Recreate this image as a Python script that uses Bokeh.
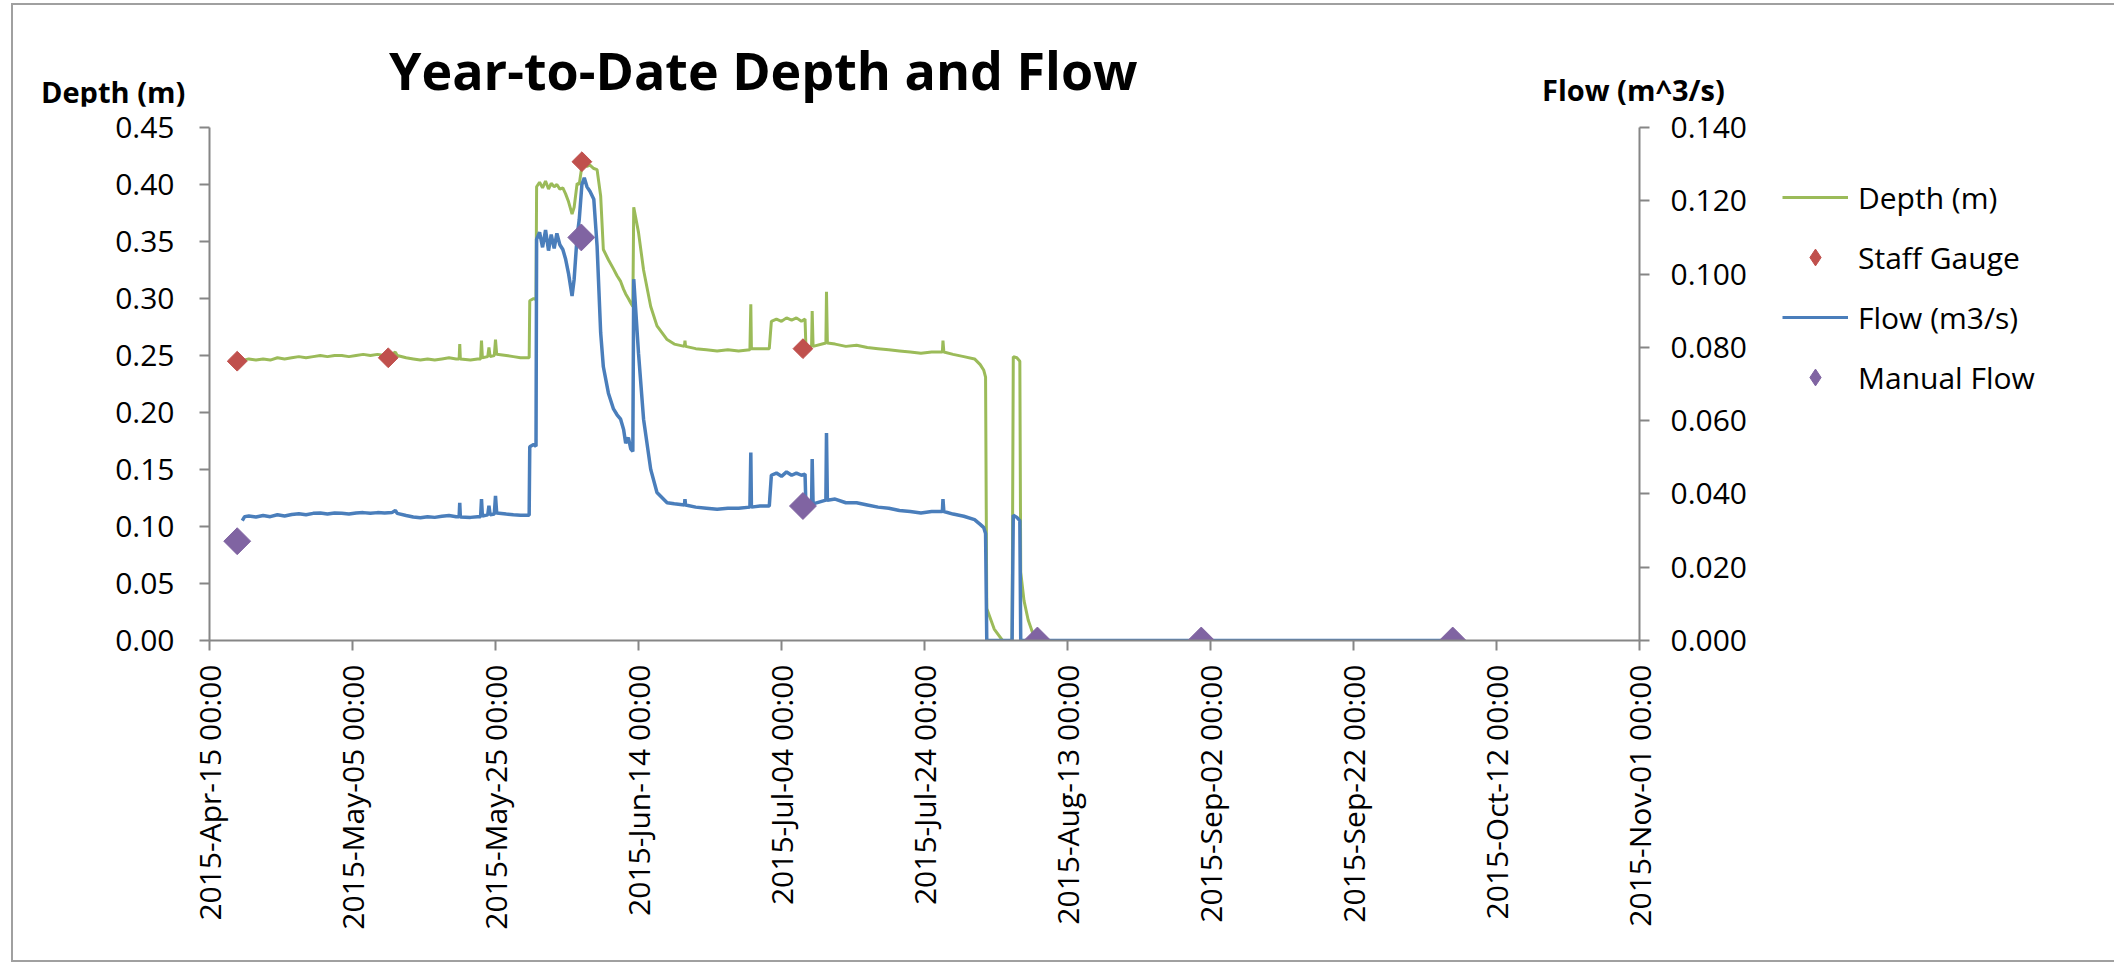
import math
import pandas as pd
from bokeh.plotting import figure
from bokeh.layouts import column, row
from bokeh.models import (Range1d, LinearAxis, FixedTicker, NumeralTickFormatter,
                          DatetimeTickFormatter, Legend, LegendItem, Div)
from bokeh.embed import file_html
from bokeh.resources import INLINE

# ---------------- data ----------------
title_text = "Year-to-Date Depth and Flow"
depth_axis_title = "Depth (m)"
flow_axis_title = "Flow (m^3/s)"
series_names = ["Depth (m)", "Staff Gauge", "Flow (m3/s)", "Manual Flow"]

x_tick_dates = ["2015-04-15", "2015-05-05", "2015-05-25", "2015-06-14", "2015-07-04",
                "2015-07-24", "2015-08-13", "2015-09-02", "2015-09-22", "2015-10-12",
                "2015-11-01"]
depth_ticks = [0.0, 0.05, 0.10, 0.15, 0.20, 0.25, 0.30, 0.35, 0.40, 0.45]
flow_ticks = [0.0, 0.02, 0.04, 0.06, 0.08, 0.10, 0.12, 0.14]

times = [
    "2015-04-19 14:00", "2015-04-19 22:00", "2015-04-20 12:00", "2015-04-21 12:00",
    "2015-04-22 12:00", "2015-04-23 12:00", "2015-04-24 12:00", "2015-04-25 12:00",
    "2015-04-26 12:00", "2015-04-27 12:00", "2015-04-28 12:00", "2015-04-29 12:00",
    "2015-04-30 12:00", "2015-05-01 12:00", "2015-05-02 12:00", "2015-05-03 12:00",
    "2015-05-04 12:00", "2015-05-05 12:00", "2015-05-06 12:00", "2015-05-07 12:00",
    "2015-05-08 12:00", "2015-05-09 12:00", "2015-05-10 12:00", "2015-05-11 00:00",
    "2015-05-11 06:00", "2015-05-12 12:00", "2015-05-13 12:00", "2015-05-14 12:00",
    "2015-05-15 12:00", "2015-05-16 12:00", "2015-05-17 12:00", "2015-05-18 12:00",
    "2015-05-19 12:00", "2015-05-19 22:00", "2015-05-20 00:00", "2015-05-20 02:00",
    "2015-05-21 12:00", "2015-05-22 12:00", "2015-05-22 22:00", "2015-05-23 01:00",
    "2015-05-23 04:00", "2015-05-23 22:00", "2015-05-24 02:00", "2015-05-24 06:00",
    "2015-05-24 20:00", "2015-05-25 00:00", "2015-05-25 04:00", "2015-05-26 12:00",
    "2015-05-27 12:00", "2015-05-28 12:00", "2015-05-29 17:00", "2015-05-29 19:00",
    "2015-05-30 08:00", "2015-05-30 16:00", "2015-05-30 18:00", "2015-05-31 04:00",
    "2015-05-31 14:00", "2015-06-01 00:00", "2015-06-01 10:00", "2015-06-01 19:00",
    "2015-06-02 05:00", "2015-06-02 14:00", "2015-06-03 00:00", "2015-06-03 10:00",
    "2015-06-03 19:00", "2015-06-04 05:00", "2015-06-04 17:00", "2015-06-05 00:00",
    "2015-06-05 10:00", "2015-06-05 17:00", "2015-06-06 02:00", "2015-06-06 10:00",
    "2015-06-06 19:00", "2015-06-07 05:00", "2015-06-07 18:00", "2015-06-08 05:00",
    "2015-06-08 17:00", "2015-06-09 02:00", "2015-06-09 19:00", "2015-06-10 12:00",
    "2015-06-11 00:00", "2015-06-11 12:00", "2015-06-11 22:00", "2015-06-12 05:00",
    "2015-06-12 14:00", "2015-06-12 22:00", "2015-06-13 05:00", "2015-06-13 08:00",
    "2015-06-14 00:00", "2015-06-14 17:00", "2015-06-15 17:00", "2015-06-16 14:00",
    "2015-06-18 00:00", "2015-06-19 00:00", "2015-06-20 10:00", "2015-06-20 12:00",
    "2015-06-20 14:00", "2015-06-22 00:00", "2015-06-23 12:00", "2015-06-25 00:00",
    "2015-06-26 12:00", "2015-06-28 00:00", "2015-06-29 14:00", "2015-06-29 17:00",
    "2015-06-29 19:00", "2015-07-01 00:00", "2015-07-02 07:00", "2015-07-02 14:00",
    "2015-07-03 07:00", "2015-07-04 00:00", "2015-07-04 17:00", "2015-07-05 10:00",
    "2015-07-06 02:00", "2015-07-06 19:00", "2015-07-07 07:00", "2015-07-07 10:00",
    "2015-07-08 05:00", "2015-07-08 07:00", "2015-07-08 10:00", "2015-07-10 05:00",
    "2015-07-10 07:00", "2015-07-10 10:00", "2015-07-11 12:00", "2015-07-13 00:00",
    "2015-07-14 12:00", "2015-07-16 00:00", "2015-07-17 12:00", "2015-07-19 00:00",
    "2015-07-20 12:00", "2015-07-22 00:00", "2015-07-23 12:00", "2015-07-25 00:00",
    "2015-07-26 12:00", "2015-07-26 14:00", "2015-07-26 17:00", "2015-07-28 00:00",
    "2015-07-29 12:00", "2015-07-31 00:00", "2015-07-31 19:00", "2015-08-01 07:00",
    "2015-08-01 13:00", "2015-08-01 17:00", "2015-08-02 18:00", "2015-08-03 22:00",
    "2015-08-05 06:00", "2015-08-05 10:00", "2015-08-05 22:00", "2015-08-06 08:00",
    "2015-08-06 11:00", "2015-08-06 22:00", "2015-08-07 12:00", "2015-08-08 12:00",
    "2015-10-05 21:00",
]
depth_m = [
    0.245, 0.246, 0.247, 0.246, 0.247, 0.246, 0.248, 0.247, 0.248, 0.249, 0.248, 0.249,
    0.250, 0.249, 0.250, 0.250, 0.249, 0.250, 0.251, 0.250, 0.251, 0.250, 0.251, 0.253,
    0.250, 0.248, 0.247, 0.246, 0.247, 0.246, 0.247, 0.248, 0.247, 0.247, 0.260, 0.247,
    0.246, 0.247, 0.247, 0.263, 0.248, 0.249, 0.257, 0.249, 0.250, 0.264, 0.251, 0.250,
    0.249, 0.248, 0.248, 0.298, 0.300, 0.299, 0.398, 0.402, 0.397, 0.403, 0.396, 0.401,
    0.398, 0.400, 0.396, 0.397, 0.392, 0.385, 0.374, 0.380, 0.401, 0.400, 0.416, 0.418,
    0.416, 0.417, 0.414, 0.413, 0.390, 0.343, 0.334, 0.326, 0.320, 0.315, 0.308, 0.304,
    0.300, 0.296, 0.293, 0.380, 0.358, 0.325, 0.293, 0.276, 0.264, 0.260, 0.258, 0.263,
    0.258, 0.256, 0.255, 0.254, 0.255, 0.254, 0.255, 0.295, 0.256, 0.256, 0.256, 0.280,
    0.282, 0.280, 0.283, 0.281, 0.283, 0.280, 0.282, 0.257, 0.258, 0.289, 0.258, 0.261,
    0.306, 0.261, 0.260, 0.258, 0.259, 0.257, 0.256, 0.255, 0.254, 0.253, 0.252, 0.253,
    0.253, 0.263, 0.253, 0.251, 0.249, 0.247, 0.242, 0.237, 0.231, 0.028, 0.010, 0.000,
    0.000, 0.249, 0.248, 0.245, 0.060, 0.035, 0.018, 0.000, 0.000,
]
flow_m3s = [
    0.0327, 0.0338, 0.0340, 0.0337, 0.0341, 0.0338, 0.0343, 0.0340, 0.0344, 0.0346,
    0.0343, 0.0347, 0.0348, 0.0345, 0.0348, 0.0347, 0.0345, 0.0348, 0.0349, 0.0347,
    0.0349, 0.0348, 0.0349, 0.0355, 0.0347, 0.0341, 0.0337, 0.0335, 0.0338, 0.0336,
    0.0339, 0.0341, 0.0338, 0.0338, 0.0376, 0.0337, 0.0336, 0.0338, 0.0338, 0.0386,
    0.0340, 0.0343, 0.0368, 0.0343, 0.0345, 0.0395, 0.0348, 0.0345, 0.0343, 0.0342,
    0.0342, 0.0529, 0.0535, 0.0530, 0.1095, 0.1114, 0.1073, 0.1120, 0.1064, 0.1108,
    0.1070, 0.1111, 0.1080, 0.1067, 0.1042, 0.1002, 0.0940, 0.0986, 0.1104, 0.1148,
    0.1244, 0.1263, 0.1238, 0.1226, 0.1204, 0.1076, 0.0840, 0.0747, 0.0675, 0.0632,
    0.0616, 0.0604, 0.0576, 0.0538, 0.0554, 0.0523, 0.0516, 0.0986, 0.0784, 0.0604,
    0.0467, 0.0404, 0.0376, 0.0373, 0.0370, 0.0386, 0.0370, 0.0364, 0.0361, 0.0358,
    0.0361, 0.0361, 0.0364, 0.0513, 0.0364, 0.0367, 0.0367, 0.0451, 0.0457, 0.0448,
    0.0460, 0.0451, 0.0457, 0.0451, 0.0454, 0.0367, 0.0370, 0.0495, 0.0373, 0.0383,
    0.0566, 0.0383, 0.0386, 0.0376, 0.0376, 0.0370, 0.0364, 0.0361, 0.0355, 0.0352,
    0.0348, 0.0352, 0.0352, 0.0386, 0.0352, 0.0345, 0.0339, 0.0330, 0.0317, 0.0308,
    0.0292, 0.0000, 0.0000, 0.0000, 0.0000, 0.0342, 0.0336, 0.0327, 0.0000, 0.0000,
    0.0000, 0.0000, 0.0000,
]

gauge_times = ["2015-04-18 21:00", "2015-05-10 00:00", "2015-06-06 02:00", "2015-07-07 00:00"]
gauge_depth = [0.245, 0.248, 0.420, 0.256]

manual_times = ["2015-04-18 21:00", "2015-06-06 00:00", "2015-07-07 00:00",
                "2015-08-08 19:00", "2015-08-31 17:00", "2015-10-05 21:00"]
manual_flow = [0.0271, 0.110, 0.0367, 0.0, 0.0, 0.0]

# ---------------- styling ----------------
GREEN, BLUE, RED, PURPLE = "#9BBB59", "#4A7EBB", "#C0504D", "#8064A2"
AXIS = "#868686"
FONT = "Open Sans"

W = 2094            # content width inside the chart border
HEAD = 91           # header strip (chart title + axis titles)
FRAME_W, FRAME_H = 1430, 513
BL, BR, BT, BB = 196, 110, 21, 320    # space round the plot area
PH = BT + FRAME_H + BB                # figure height
PW = BL + FRAME_W + BR                # main figure width
LW = W - PW                           # legend strip width

t_dt = pd.to_datetime(times)
g_dt = pd.to_datetime(gauge_times)
m_dt = pd.to_datetime(manual_times)
xt = pd.to_datetime(x_tick_dates)

p = figure(frame_width=FRAME_W, frame_height=FRAME_H,
           output_backend="svg", toolbar_location=None,
           x_axis_type="datetime",
           x_range=Range1d(xt[0], xt[-1]),
           y_range=Range1d(depth_ticks[0], depth_ticks[-1]),
           min_border_left=BL, min_border_right=BR,
           min_border_top=BT, min_border_bottom=BB)
p.outline_line_color = None
p.grid.visible = False
p.background_fill_color = "white"
p.border_fill_color = "white"

p.extra_y_ranges = {"flow": Range1d(flow_ticks[0], flow_ticks[-1])}
right_axis = LinearAxis(y_range_name="flow")
p.add_layout(right_axis, "right")

p.xaxis.ticker = FixedTicker(ticks=[int(d.value // 10**6) for d in xt], minor_ticks=[])
fmt = "%Y-%b-%d %H:%M"
p.xaxis.formatter = DatetimeTickFormatter(
    microseconds=fmt, milliseconds=fmt, seconds=fmt, minsec=fmt, minutes=fmt,
    hourmin=fmt, hours=fmt, days=fmt, months=fmt, years=fmt)
p.xaxis.major_label_orientation = math.pi / 2
p.xaxis.major_label_standoff = 14

p.yaxis[0].ticker = FixedTicker(ticks=depth_ticks, minor_ticks=[])
p.yaxis[0].formatter = NumeralTickFormatter(format="0.00")
p.yaxis[0].major_label_standoff = 25
right_axis.ticker = FixedTicker(ticks=flow_ticks, minor_ticks=[])
right_axis.formatter = NumeralTickFormatter(format="0.000")
right_axis.major_label_standoff = 21

for ax in [p.xaxis[0], p.yaxis[0], right_axis]:
    ax.axis_line_color = AXIS
    ax.axis_line_width = 2
    ax.major_tick_line_color = AXIS
    ax.major_tick_line_width = 2
    ax.major_tick_out = 10
    ax.major_tick_in = 0
    ax.minor_tick_line_color = None
    ax.major_label_text_font = FONT
    ax.major_label_text_font_size = "30px"
    ax.major_label_text_color = "black"

p.line(t_dt, depth_m, line_color=GREEN, line_width=3)
p.scatter(g_dt, gauge_depth, marker="square", angle=math.pi / 4, size=14,
          fill_color=RED, line_color=RED)
p.line(t_dt, flow_m3s, line_color=BLUE, line_width=3.5, y_range_name="flow")
p.scatter(m_dt, manual_flow, marker="square", angle=math.pi / 4, size=19,
          fill_color=PURPLE, line_color=PURPLE, y_range_name="flow")

# ---- legend strip to the right of the flow axis ----
# It shows the period after the last reading, so its copies of the series draw
# nothing there; they only supply the legend keys.
q = figure(width=LW, height=PH, output_backend="svg", toolbar_location=None,
           x_axis_location=None, y_axis_location=None,
           x_axis_type="datetime",
           x_range=Range1d(xt[-1], xt[-1] + pd.Timedelta(days=1)),
           y_range=Range1d(depth_ticks[0], depth_ticks[-1]),
           min_border_left=0, min_border_right=0, min_border_top=0, min_border_bottom=0)
q.extra_y_ranges = {"flow": Range1d(flow_ticks[0], flow_ticks[-1])}
q.outline_line_color = None
q.grid.visible = False
q.background_fill_color = "white"
q.border_fill_color = "white"

k_depth = q.line(t_dt, depth_m, line_color=GREEN, line_width=3)
k_gauge = q.scatter(g_dt, gauge_depth, marker="diamond", size=14,
                    fill_color=RED, line_color=RED)
k_flow = q.line(t_dt, flow_m3s, line_color=BLUE, line_width=3, y_range_name="flow")
k_manual = q.scatter(m_dt, manual_flow, marker="diamond", size=19,
                     fill_color=PURPLE, line_color=PURPLE, y_range_name="flow")

legend = Legend(items=[LegendItem(label=series_names[0], renderers=[k_depth]),
                       LegendItem(label=series_names[1], renderers=[k_gauge]),
                       LegendItem(label=series_names[2], renderers=[k_flow]),
                       LegendItem(label=series_names[3], renderers=[k_manual])],
                location="top_left", orientation="vertical",
                title=" ", title_text_font_size="2px", title_standoff=14,
                glyph_width=66, glyph_height=42, label_height=42, spacing=18,
                padding=0, margin=33, label_standoff=10,
                label_text_font=FONT, label_text_font_size="30px",
                label_text_color="black",
                background_fill_alpha=0, border_line_alpha=0)
q.add_layout(legend)

# ---- header strip: chart title and the two axis titles, as real text ----
span = ("position:absolute;white-space:nowrap;line-height:1;color:#000;"
        "font-family:'Open Sans';font-weight:bold;")
head_html = (
    f'<div style="position:relative;width:{W}px;height:{HEAD}px;">'
    f'<span style="{span}left:371px;top:34px;font-size:52px;">{title_text}</span>'
    f'<span style="{span}left:23px;top:67px;font-size:29px;">{depth_axis_title}</span>'
    f'<span style="{span}left:1524px;top:65px;font-size:29px;">{flow_axis_title}</span>'
    '</div>'
)
header = Div(text=head_html, width=W, height=HEAD)

page = column(header, row(p, q, spacing=0), spacing=0,
              styles={"margin-left": "11px", "margin-top": "3px",
                      "border": "2px solid #a0a0a0", "background": "white"})

open("out.html", "w").write(file_html(page, INLINE))
